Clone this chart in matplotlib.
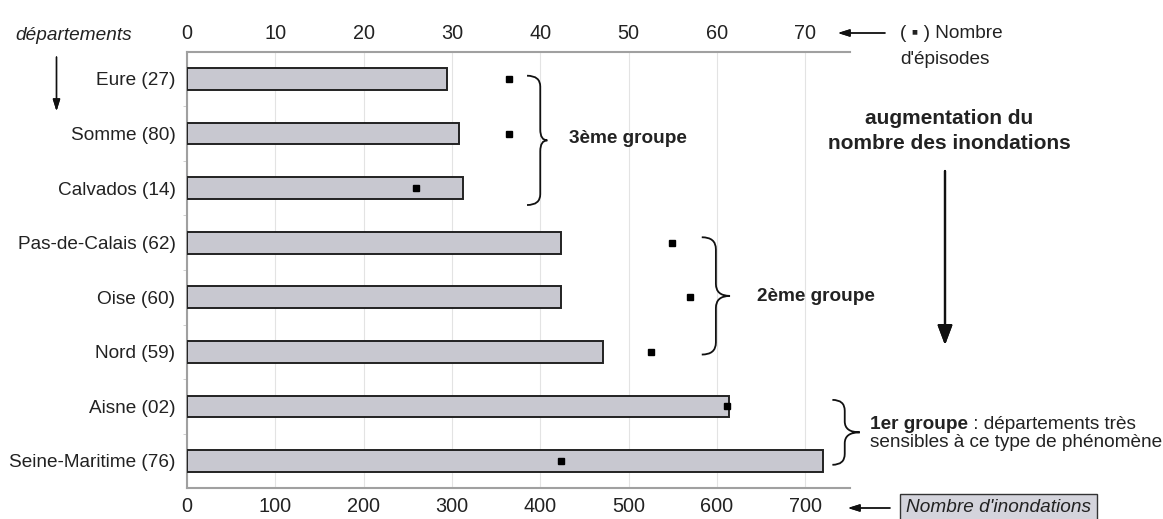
"""Nombre d'inondations et d'épisodes par département (bar chart + markers)."""

import matplotlib
matplotlib.use("Agg")
import matplotlib.pyplot as plt
from matplotlib.path import Path
from matplotlib.patches import PathPatch

W, H = 1163, 519

departements = [
    "Eure (27)", "Somme (80)", "Calvados (14)", "Pas-de-Calais (62)",
    "Oise (60)", "Nord (59)", "Aisne (02)", "Seine-Maritime (76)",
]
inondations = [294, 308, 312, 424, 424, 471, 614, 720]
episodes = [36.5, 36.5, 25.9, 54.9, 57.0, 52.5, 61.2, 42.4]
ticks_inond = [0, 100, 200, 300, 400, 500, 600, 700]
ticks_epis = [0, 10, 20, 30, 40, 50, 60, 70]

BAR = "#c8c8d0"
EDGE = "#222222"
SPINE = "#a0a0a0"
TXT = "#222222"
FS = 13.7
FS_TICK = 14.3

plt.rcParams["font.family"] = ["Liberation Sans", "DejaVu Sans"]


def px(x, y):
    """pixel position (from top-left) -> figure fraction"""
    return x / W, 1 - y / H


def brace(ax, x, y0, y1, hook, tip, r):
    """curly brace opening to the left, tip pointing right (data units)"""
    ym = (y0 + y1) / 2
    verts = [(x - hook, y0), (x, y0), (x, y0 + r),
             (x, ym - r), (x, ym), (x + tip, ym),
             (x, ym), (x, ym + r),
             (x, y1 - r), (x, y1), (x - hook, y1)]
    codes = [Path.MOVETO, Path.CURVE3, Path.CURVE3,
             Path.LINETO, Path.CURVE3, Path.CURVE3,
             Path.CURVE3, Path.CURVE3,
             Path.LINETO, Path.CURVE3, Path.CURVE3]
    ax.add_patch(PathPatch(Path(verts, codes), fc="none", ec="#111111",
                           lw=1.3, clip_on=False, zorder=5))


fig = plt.figure(figsize=(W / 100, H / 100), dpi=100)
ax = fig.add_axes([0.161, 0.0592, 0.5699, 0.8412])

pos = list(range(len(departements)))
ax.barh(pos, inondations, height=0.4, color=BAR, edgecolor=EDGE, linewidth=1.4, zorder=3)
ax.set_xlim(0, 751)
ax.set_ylim(7.5, -0.5)
ax.set_xticks(ticks_inond)
ax.set_yticks(pos)
ax.set_yticklabels(departements)
ax.set_yticks([p + 0.5 for p in pos[:-1]], minor=True)
ax.grid(axis="x", color="#e3e3e3", lw=0.8, zorder=0)
ax.tick_params(axis="x", length=0, pad=6.5, labelsize=FS_TICK, labelcolor=TXT)
ax.tick_params(axis="y", which="major", length=0, pad=8.5, labelsize=FS, labelcolor=TXT)
ax.tick_params(axis="y", which="minor", length=3, color="#c8c8c8")
for side in ("left", "bottom"):
    ax.spines[side].set_color(SPINE)
    ax.spines[side].set_linewidth(1.5)
ax.spines["right"].set_visible(False)
ax.spines["top"].set_visible(False)

# top axis: number of episodes (same scale, /10)
ax2 = ax.twiny()
ax2.set_xlim(0, 75.1)
ax2.set_xticks(ticks_epis)
ax2.plot(episodes, pos, "s", ms=5, color="black", zorder=6, clip_on=False)
ax2.tick_params(axis="x", length=0, pad=6, labelsize=FS_TICK, labelcolor=TXT)
for side in ("left", "right", "bottom"):
    ax2.spines[side].set_visible(False)
ax2.spines["top"].set_color(SPINE)
ax2.spines["top"].set_linewidth(1.5)

# braces + group labels
brace(ax, 400, -0.06, 2.31, 15, 8, 0.2)
brace(ax, 599, 2.90, 5.05, 16, 16, 0.22)
brace(ax, 745, 5.88, 7.07, 14, 17, 0.2)
ax.text(432.5, 1.09, "3ème groupe", fontsize=FS, fontweight="bold", color=TXT,
        va="center", ha="left", clip_on=False)
ax.text(645.5, 3.99, "2ème groupe", fontsize=FS, fontweight="bold", color=TXT,
        va="center", ha="left", clip_on=False)
t1 = ax.text(773.4, 6.33, "1er groupe", fontsize=FS, fontweight="bold", color=TXT,
             va="center", ha="left", clip_on=False)
ax.annotate(" : départements très", xy=(1, 0), xycoords=t1, fontsize=FS,
            color=TXT, va="bottom", ha="left")
ax.text(773.4, 6.67, "sensibles à ce type de phénomène", fontsize=FS, color=TXT,
        va="center", ha="left", clip_on=False)

# annotations around the chart
fig.text(*px(15, 36), "départements", fontsize=FS, style="italic", color=TXT,
         va="center", ha="left")
fig.add_artist(plt.annotate("", xy=px(56.5, 111), xytext=px(56.5, 57),
                            xycoords="figure fraction", textcoords="figure fraction",
                            arrowprops=dict(arrowstyle="-|>,head_length=0.7,head_width=0.22",
                                            color="#111111", lw=1.0, shrinkA=0, shrinkB=0)))

fig.text(*px(900, 33), "( ▪ ) Nombre", fontsize=FS, color=TXT, va="center", ha="left")
fig.text(*px(900, 60), "d'épisodes", fontsize=FS, color=TXT, va="center", ha="left")
fig.text(*px(949, 118), "augmentation du", fontsize=15, fontweight="bold",
         color=TXT, va="center", ha="center")
fig.text(*px(949, 143), "nombre des inondations", fontsize=15, fontweight="bold",
         color=TXT, va="center", ha="center")
fig.text(*px(906, 508), "Nombre d'inondations", fontsize=FS, style="italic", color=TXT,
         va="center", ha="left",
         bbox=dict(boxstyle="square,pad=0.3", fc="#d4d4dc", ec="#333333", lw=1.0))

arrow_thin = dict(arrowstyle="-|>,head_length=0.7,head_width=0.22",
                  color="#111111", lw=1.0, shrinkA=0, shrinkB=0)
for (x0, y0), (x1, y1) in [((885, 33), (838, 33)), ((890, 508), (848, 508))]:
    fig.add_artist(plt.annotate("", xy=px(x1, y1), xytext=px(x0, y0),
                                xycoords="figure fraction", textcoords="figure fraction",
                                arrowprops=arrow_thin))

fig.add_artist(plt.annotate("", xy=px(945, 345), xytext=px(945, 171),
                            xycoords="figure fraction", textcoords="figure fraction",
                            arrowprops=dict(arrowstyle="-|>,head_length=1.2,head_width=0.45",
                                            mutation_scale=10, color="#111111", lw=1.6,
                                            shrinkA=0, shrinkB=0)))

fig.savefig("out.png", dpi=100)
